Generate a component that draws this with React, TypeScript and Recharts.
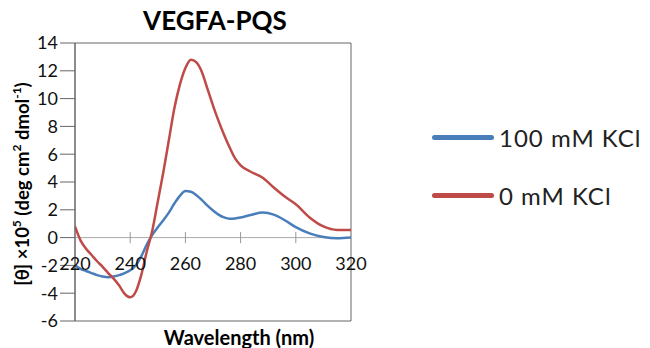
import React from 'react';
import {
  LineChart, Line, XAxis, YAxis, ReferenceLine, ReferenceArea, Legend,
} from 'recharts';

const wavelengths = [
  220, 222, 224, 226, 228, 230, 232, 234, 236, 238, 240, 242, 244, 246, 248, 250,
  252, 254, 256, 258, 260, 262, 264, 266, 268, 270, 272, 274, 276, 278, 280, 284,
  288, 292, 296, 300, 305, 310, 315, 320,
];
const kcl100 = [
  -2.0, -2.25, -2.4, -2.55, -2.7, -2.8, -2.85, -2.8, -2.7, -2.55, -2.35, -2.0, -1.35, -0.5, 0.2, 0.75,
  1.25, 1.8, 2.45, 3.0, 3.35, 3.3, 3.05, 2.7, 2.3, 1.95, 1.65, 1.45, 1.35, 1.38, 1.45, 1.65,
  1.8, 1.65, 1.25, 0.75, 0.3, 0.05, -0.05, 0.0,
];
const kcl0 = [
  0.8, -0.2, -0.8, -1.25, -1.7, -2.1, -2.55, -2.95, -3.45, -4.05, -4.3, -3.9, -2.7, -1.0, 0.5, 2.6,
  4.7, 7.0, 9.3, 11.0, 12.2, 12.8, 12.6, 11.9, 10.7, 9.5, 8.4, 7.4, 6.5, 5.7, 5.2, 4.7,
  4.3, 3.6, 2.95, 2.4, 1.45, 0.8, 0.55, 0.55,
];
const xTicks = [220, 240, 260, 280, 300, 320];
const yTicks = [-6, -4, -2, 0, 2, 4, 6, 8, 10, 12, 14];
const seriesOrder = ['blue', 'red'];

const data = wavelengths.map((w, i) => ({ w, blue: kcl100[i], red: kcl0[i] }));

const font = 'Lato, "Open Sans", sans-serif';

const renderLegend = (props: any) => {
  const payload = [...props.payload].sort(
    (a: any, b: any) => seriesOrder.indexOf(a.dataKey) - seriesOrder.indexOf(b.dataKey),
  );
  return (
    <div style={{ fontFamily: font }}>
      {payload.map((p: any, i: number) => (
        <div key={i} style={{ display: 'flex', alignItems: 'center', height: 58 }}>
          <div style={{ width: 62, height: 5, borderRadius: 3, background: p.color, marginRight: 5 }} />
          <span style={{ fontSize: 24, color: '#222', letterSpacing: 1 }}>{p.value}</span>
        </div>
      ))}
    </div>
  );
};

export default function App() {
  return (
    <div style={{ position: 'absolute', left: 0, top: 0, width: 650, height: 348, background: '#fff', fontFamily: font }}>
      <LineChart width={650} height={348} data={data} margin={{ top: 43, right: 299, bottom: 26, left: 35 }}>
        <XAxis
          dataKey="w"
          type="number"
          domain={[220, 320]}
          ticks={xTicks}
          axisLine={false}
          tickLine={false}
          tickSize={0}
          tick={{ fill: '#111', fontSize: 18, dy: -66 }}
          height={1}
          allowDataOverflow
        />
        <YAxis
          type="number"
          domain={[-6, 14]}
          ticks={yTicks}
          width={40}
          axisLine={{ stroke: '#666' }}
          tickLine={{ stroke: '#666' }}
          tickSize={15}
          tickMargin={2}
          tick={{ fill: '#111', fontSize: 18 }}
          allowDataOverflow
        />
        <ReferenceArea x1={220} x2={320} y1={-6} y2={14} fill="none" stroke="#666" strokeWidth={1} />
        <ReferenceLine y={0} stroke="#aaa" strokeWidth={1} />
        {xTicks.slice(1, -1).map((t) => (
          <ReferenceLine key={t} segment={[{ x: t, y: -0.4 }, { x: t, y: 0.4 }]} stroke="#999" />
        ))}
        <Legend
          content={renderLegend}
          layout="horizontal"
          verticalAlign="middle"
          align="center"
          wrapperStyle={{ position: 'absolute', left: 432, top: 108, width: 220 }}
        />
        <Line type="monotone" dataKey="blue" name="100 mM KCl" stroke="#4a7ebb" strokeWidth={2.5} dot={false} isAnimationActive={false} />
        <Line type="monotone" dataKey="red" name="0 mM KCl" stroke="#be4b48" strokeWidth={2.5} dot={false} isAnimationActive={false} />
      </LineChart>
      <div style={{ position: 'absolute', left: 115, top: 4, width: 200, textAlign: 'center', fontSize: 26, fontWeight: 700, color: '#000' }}>
        VEGFA-PQS
      </div>
      <div style={{ position: 'absolute', left: 139, top: 325, width: 200, textAlign: 'center', fontSize: 20, fontWeight: 700, color: '#000' }}>
        Wavelength (nm)
      </div>
      <div
        style={{
          position: 'absolute', left: 21, top: 184, width: 260, textAlign: 'center', fontSize: 18.5, fontWeight: 700,
          color: '#000', transform: 'translate(-50%, -50%) rotate(-90deg)', whiteSpace: 'nowrap',
        }}
      >
        [θ] ×10<sup style={{ fontSize: 12 }}>5</sup> (deg cm<sup style={{ fontSize: 12 }}>2</sup> dmol<sup style={{ fontSize: 12 }}>-1</sup>)
      </div>
    </div>
  );
}
